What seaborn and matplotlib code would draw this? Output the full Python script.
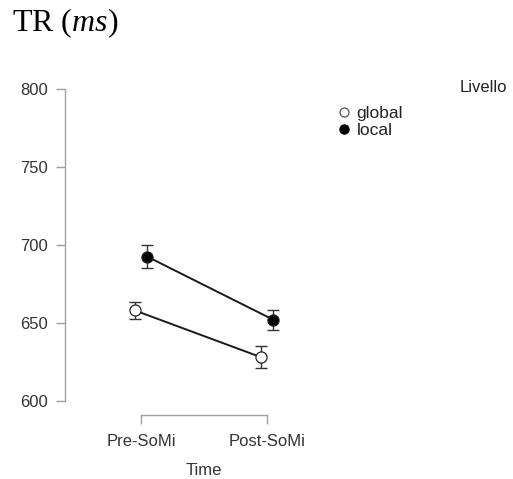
import pandas as pd
import seaborn as sns
import matplotlib.pyplot as plt
from matplotlib.lines import Line2D

# values (mean RT and error bar half-width, ms)
time_labels = ['Pre-SoMi', 'Post-SoMi']
levels = ['global', 'local']
global_mean = [658, 628]
global_err = [5.6, 7.2]
local_mean = [692.5, 652]
local_err = [7.4, 6.3]

df = pd.DataFrame({
    'Time': time_labels * 2,
    'Livello': ['global'] * 2 + ['local'] * 2,
    'RT': global_mean + local_mean,
    'err': global_err + local_err,
})
df['t'] = df['Time'].map({t: i for i, t in enumerate(time_labels)})
dodge = {'global': -0.05, 'local': 0.05}
df['pos'] = df['t'] + df['Livello'].map(dodge)

sns.set_style('white')
plt.rcParams['font.family'] = ['Liberation Sans', 'DejaVu Sans']
plt.rcParams['mathtext.fontset'] = 'custom'
plt.rcParams['mathtext.rm'] = 'Liberation Serif'
plt.rcParams['mathtext.it'] = 'Liberation Serif:italic'

fig = plt.figure(figsize=(5.13, 4.79), dpi=100)
ax = fig.add_axes([65 / 513, 64 / 479, 265 / 513, 325.7 / 479])

face = {'global': 'white', 'local': 'black'}
for lev in levels:
    d = df[df['Livello'] == lev]
    ax.errorbar(d['pos'], d['RT'], yerr=d['err'], fmt='none', ecolor='#333333',
                elinewidth=1, capsize=4.5, capthick=1, zorder=2)
    sns.lineplot(data=d, x='pos', y='RT', color='#1a1a1a', linewidth=1.4,
                 marker='o', markersize=8, markerfacecolor=face[lev],
                 markeredgecolor='#222222', markeredgewidth=0.9, ax=ax, zorder=3)

ax.set_xlim(-0.603, 1.5)
ax.set_ylim(590.8, 800)
ax.set_xticks([0, 1])
ax.set_xticklabels(time_labels)
ax.set_yticks([600, 650, 700, 750, 800])
for s in ['top', 'right']:
    ax.spines[s].set_visible(False)
for s in ['left', 'bottom']:
    ax.spines[s].set_color('#a0a0a0')
    ax.spines[s].set_linewidth(1)
ax.spines['left'].set_bounds(600, 800)
ax.spines['bottom'].set_bounds(0, 1)
ax.tick_params(axis='both', length=6.5, width=1, color='#a0a0a0',
               labelsize=12, labelcolor='#333333', pad=6, left=True, bottom=True)
ax.tick_params(axis='x', pad=7.5)
ax.set_ylabel('')
ax.set_xlabel('Time', fontsize=12, color='#333333', labelpad=10)
ax.xaxis.label.set_x((0.5 + 0.603) / 2.103)

handles = [
    Line2D([], [], linestyle='None', marker='o', markersize=6.5,
           markerfacecolor='white', markeredgecolor='#555555', markeredgewidth=0.9),
    Line2D([], [], linestyle='None', marker='o', markersize=6.5,
           markerfacecolor='black', markeredgecolor='black'),
]
fig.legend(handles, levels, loc='upper left', bbox_to_anchor=(335 / 513, 1 - 106 / 479),
           frameon=False, fontsize=12.5, handlelength=1, handletextpad=0.25,
           borderpad=0, borderaxespad=0, labelspacing=0.12, labelcolor='#222222')
fig.text(507 / 513, 1 - 88 / 479, 'Livello', ha='right', va='center',
         fontsize=12, color='#222222')
fig.text(12 / 513, 1 - 23 / 479, r'TR ($\mathit{ms}$)', ha='left', va='center',
         fontsize=23, family='Liberation Serif', color='black')

fig.savefig('out.png', dpi=100)
